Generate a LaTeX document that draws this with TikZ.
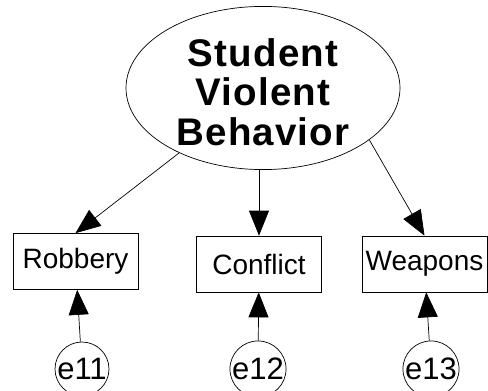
\documentclass[tikz,border=0pt]{standalone}
\usepackage{fontspec}
\setmainfont{Liberation Sans}
\usetikzlibrary{arrows.meta,shapes.geometric}

\begin{document}
\begin{tikzpicture}[x=1pt,y=1pt,
    latent/.style={draw,ellipse,line width=0.7pt,minimum width=274pt,minimum height=148pt,
      inner sep=0pt,align=center,
      font=\fontsize{38.5}{39.5}\selectfont\bfseries\addfontfeature{LetterSpace=3}},
    observed/.style={draw,rectangle,line width=0.7pt,minimum width=125pt,minimum height=56pt,
      inner sep=0pt,font=\fontsize{28}{30}\selectfont},
    resid/.style={draw,circle,line width=0.7pt,minimum size=54pt,inner sep=0pt,
      font=\fontsize{31}{32}\selectfont},
    load/.style={line width=0.7pt,-{Triangle[length=25pt,width=20pt]}}]
    \useasboundingbox (0,0) rectangle (488,-391);
    \clip (0,0) rectangle (488,-391);
    % latent factor
    \node[latent] (svb) at (263,-88) {\rule{0pt}{36pt}Student\\Violent\\Behavior};
    % indicators
    \node[observed] (rob) at (75.5,-261.5) {Robbery};
    \node[observed] (con) at (259,-264) {Conflict};
    \node[observed] (wea) at (424.5,-264) {Weapons};
    % error terms
    \node[resid] (e11) at (82,-369) {e11};
    \node[resid] (e12) at (258,-369) {e12};
    \node[resid] (e13) at (431,-369) {e13};
    % loadings
    \draw[load] (svb) -- (rob.north);
    \draw[load] (con.north |- svb.south) -- (con.north);
    \draw[load] (svb.-26) -- (wea.north);
    \draw[load] (e11) -- (rob);
    \draw[load] (e12) -- (con);
    \draw[load] (e13) -- (wea);
\end{tikzpicture}
\end{document}
